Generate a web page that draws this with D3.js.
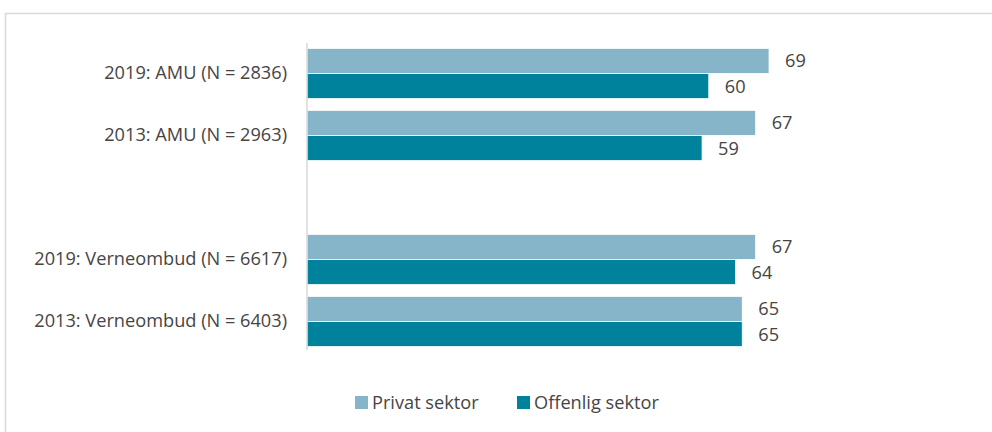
<!DOCTYPE html>
<html>
<head>
<meta charset="utf-8">
<script src="https://cdn.jsdelivr.net/npm/d3@7"></script>
<style>
  html, body { margin: 0; padding: 0; background: #fff; }
  svg { display: block; font-family: "Open Sans", sans-serif; }
</style>
</head>
<body>
<svg id="chart" width="992" height="432"></svg>
<script>
// Categories top to bottom; the empty string leaves a gap between the two groups
const categories = [
  "2019: AMU (N = 2836)",
  "2013: AMU (N = 2963)",
  "",
  "2019: Verneombud (N = 6617)",
  "2013: Verneombud (N = 6403)"
];
const seriesNames = ["Privat sektor", "Offenlig sektor"];
const privatValues = [69, 67, null, 67, 65];
const offentligValues = [60, 59, null, 64, 65];
const seriesColors = ["#86b5c9", "#00819c"];

const svg = d3.select("#chart");
const W = 992, H = 432;
const FONT = 18.2;
const TEXT = "#454545";

// outer frame
svg.append("rect")
  .attr("x", 5.5).attr("y", 13.5)
  .attr("width", W + 10).attr("height", H)
  .attr("fill", "none").attr("stroke", "#d9d9d9").attr("stroke-width", 1.5);

const x = d3.scaleLinear().domain([0, 100]).range([307, 307 + 669.6]);
const y = d3.scaleBand().domain(categories.map((c, i) => i)).range([42.5, 352.5]).paddingInner(0.19).paddingOuter(0.095);
const ySub = d3.scaleBand().domain([0, 1]).range([0, y.bandwidth()]);

const rows = categories.map((c, i) => ({
  label: c,
  values: [privatValues[i], offentligValues[i]]
}));

const g = svg.append("g");
const groups = g.selectAll("g.row").data(rows).join("g")
  .attr("class", "row")
  .attr("transform", (d, i) => `translate(0,${y(i)})`);

groups.selectAll("rect").data(d => d.values.map((v, k) => ({ v, k })).filter(e => e.v != null))
  .join("rect")
  .attr("x", x(0))
  .attr("y", e => ySub(e.k))
  .attr("width", e => x(e.v) - x(0))
  .attr("height", ySub.bandwidth())
  .attr("fill", e => seriesColors[e.k])
  .attr("stroke", "#ffffff").attr("stroke-width", 0.8);

groups.selectAll("text.val").data(d => d.values.map((v, k) => ({ v, k })).filter(e => e.v != null))
  .join("text")
  .attr("class", "val")
  .attr("x", e => x(e.v) + 16)
  .attr("y", e => ySub(e.k) + ySub.bandwidth() / 2)
  .attr("dy", "0.36em")
  .attr("font-size", FONT)
  .attr("fill", TEXT)
  .text(e => e.v);

// category axis
const yAxis = d3.axisLeft(y).tickSize(0).tickPadding(20).tickFormat(i => categories[i]);
const ax = svg.append("g").attr("transform", `translate(${x(0)},0)`).call(yAxis);
ax.select(".domain").attr("stroke", "#d9d9d9").attr("stroke-width", 1.5).attr("d", "M0,43V350");
ax.selectAll("text").attr("font-size", FONT).attr("fill", TEXT).attr("font-family", "'Open Sans', sans-serif");

// legend
const legendX = [355, 517];
const lg = svg.append("g").selectAll("g").data(seriesNames).join("g")
  .attr("transform", (d, i) => `translate(${legendX[i]},396)`);
lg.append("rect").attr("width", 13).attr("height", 13).attr("fill", (d, i) => seriesColors[i]);
lg.append("text").attr("x", 17).attr("y", 6.5).attr("dy", "0.36em")
  .attr("font-size", FONT).attr("fill", TEXT).text(d => d);
</script>
</body>
</html>
